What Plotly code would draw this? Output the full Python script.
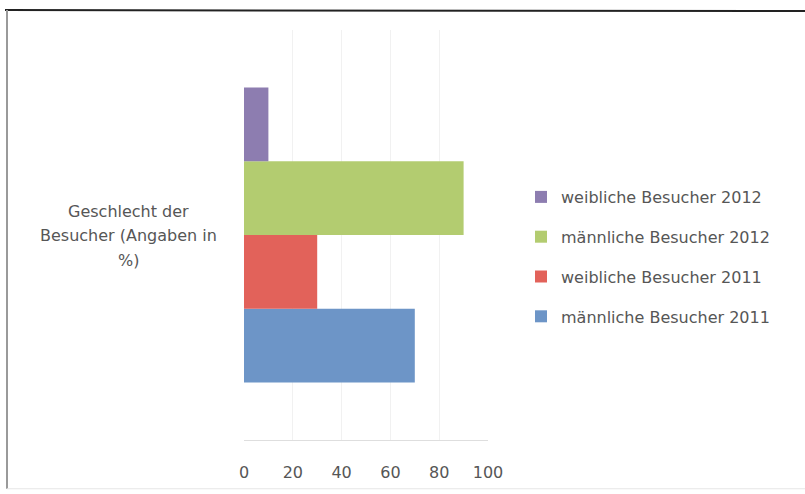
import plotly.graph_objects as go

# Survey data: share of visitors by gender (in %)
category = ["Geschlecht der Besucher (Angaben in %)"]
category_lines = ["Geschlecht der", "Besucher (Angaben in", "%)"]
series_names = [
    "männliche Besucher 2011",
    "weibliche Besucher 2011",
    "männliche Besucher 2012",
    "weibliche Besucher 2012",
]
series_values = [70, 30, 90, 10]
series_colors = ["#6d95c7", "#e2625a", "#b3cc70", "#8d7db0"]
x_ticks = [0, 20, 40, 60, 80, 100]

W, H = 805, 494
ML, MR, MT, MB = 244, 317, 30, 52
PW, PH = W - ML - MR, H - MT - MB
FONT = "DejaVu Sans"
TEXT = "#565656"

fig = go.Figure()
n = len(series_names)
for i, (name, val, col) in enumerate(zip(series_names, series_values, series_colors)):
    fig.add_trace(go.Bar(
        y=category, x=[val], name=name, orientation="h",
        legendgroup=name, legendrank=n - i,
        marker=dict(color=col, line=dict(width=0)),
    ))

def px_x(p):
    return (p - ML) / PW

def px_y(p):
    return (H - MB - p) / PH

fig.update_layout(
    width=W, height=H,
    margin=dict(l=ML, r=MR, t=MT, b=MB),
    paper_bgcolor="white", plot_bgcolor="white",
    barmode="group", bargap=0.28, bargroupgap=0,
    font=dict(family=FONT, color=TEXT),
    xaxis=dict(
        range=[0, 100], tickvals=x_ticks, ticktext=[str(t) for t in x_ticks],
        showgrid=True, gridcolor="#f1f1f1", gridwidth=1,
        zeroline=False, showline=True, linecolor="#dedede", linewidth=1,
        ticks="", ticklabelstandoff=18,
        tickfont=dict(size=16, color=TEXT, family=FONT),
        fixedrange=True,
    ),
    yaxis=dict(showticklabels=False, showgrid=False, zeroline=False,
               showline=False, fixedrange=True),
    legend=dict(
        traceorder="grouped", xref="container", yref="container",
        x=521 / W, y=1 - 180 / H, xanchor="left", yanchor="top",
        font=dict(size=16, color=TEXT, family=FONT),
        itemwidth=30, tracegroupgap=16, bgcolor="rgba(0,0,0,0)",
    ),
    showlegend=True,
)

# Category label, centred to the left of the plot area
for i, line in enumerate(category_lines):
    fig.add_annotation(
        xref="paper", yref="paper", x=px_x(128), y=px_y(212 + 25 * i),
        text=line, showarrow=False, align="center",
        xanchor="center", yanchor="middle",
        font=dict(size=16, color=TEXT, family=FONT),
    )

# Chart frame
fig.add_shape(type="line", xref="paper", yref="paper",
              x0=px_x(5), x1=px_x(805), y0=px_y(10), y1=px_y(11),
              line=dict(color="#222222", width=2))
fig.add_shape(type="line", xref="paper", yref="paper",
              x0=px_x(7), x1=px_x(7), y0=px_y(10), y1=px_y(491),
              line=dict(color="#9a9a9a", width=2))
fig.add_shape(type="line", xref="paper", yref="paper",
              x0=px_x(7), x1=px_x(805), y0=px_y(491), y1=px_y(491),
              line=dict(color="#e6e6e6", width=1))

fig.write_html("out.html")
